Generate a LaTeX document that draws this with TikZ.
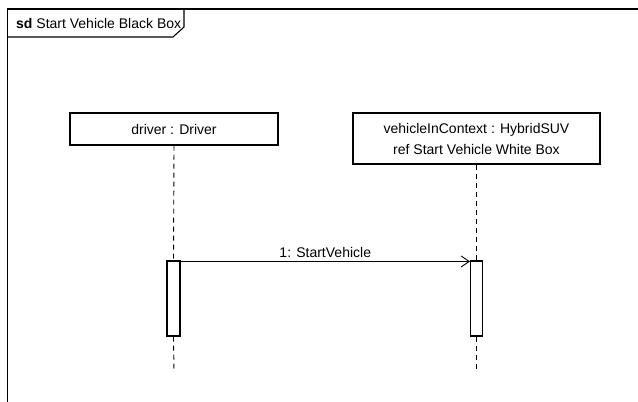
\documentclass[tikz,border=0pt]{standalone}
\usepackage{fontspec}
\setmainfont{Liberation Sans}
\usepackage{tikz}
\usetikzlibrary{positioning, arrows.meta, calc}

\begin{document}
\begin{tikzpicture}[x=1pt, y=-1pt,
  every node/.style={font=\fontsize{14}{16}\selectfont},
  lifehead/.style={draw, line width=1.1pt, inner sep=0pt},
  actbar/.style={draw, line width=1.1pt, fill=white, inner sep=0pt, minimum width=13pt, minimum height=75pt},
  lifeline/.style={line width=0.9pt, dash pattern=on 5pt off 4pt},
  msg/.style={line width=0.9pt, -{Straight Barb[length=8pt, width=11pt]}}]
\useasboundingbox (0,0) rectangle (638,402);

% Frame of the interaction with its name tab
\draw[line width=1.4pt] (7.5,402) -- (7.5,9) -- (638,9);
\draw[line width=1.1pt] (7.5,37) -- (173,37) -- (184,27) -- (184,9);
\node[anchor=base west, inner sep=0pt] (title) at (16,28) {\textbf{sd} Start Vehicle Black Box};

% Lifeline heads
\node[lifehead, minimum width=208pt, minimum height=32pt] (driver) at (174,129) {driver : Driver};
\node[lifehead, minimum width=247pt, minimum height=51pt, align=center] (vehicle) at (476.5,138.5)
  {vehicleInContext : HybridSUV\\[5pt]ref Start Vehicle White Box};

% Activation bars
\node[actbar] (driverAct) at (173.5,298.5) {};
\node[actbar, minimum width=12pt] (vehicleAct) at (476.5,298.5) {};

% Lifeline ends
\coordinate (driverEnd) at (174,372);
\coordinate (vehicleEnd) at (476.5,372);

% Lifelines
\draw[lifeline] (driver.south) -- (driverAct.north);
\draw[lifeline] (driverAct.south) -- (driverEnd);
\draw[lifeline] (vehicle.south) -- (vehicleAct.north);
\draw[lifeline] (vehicleAct.south) -- (vehicleEnd);

% Message
\draw[msg] ([yshift=-1pt]driverAct.north east) -- node[above=3pt, inner sep=0pt] {1: StartVehicle} ([yshift=-1pt]vehicleAct.north west);
\end{tikzpicture}
\end{document}
